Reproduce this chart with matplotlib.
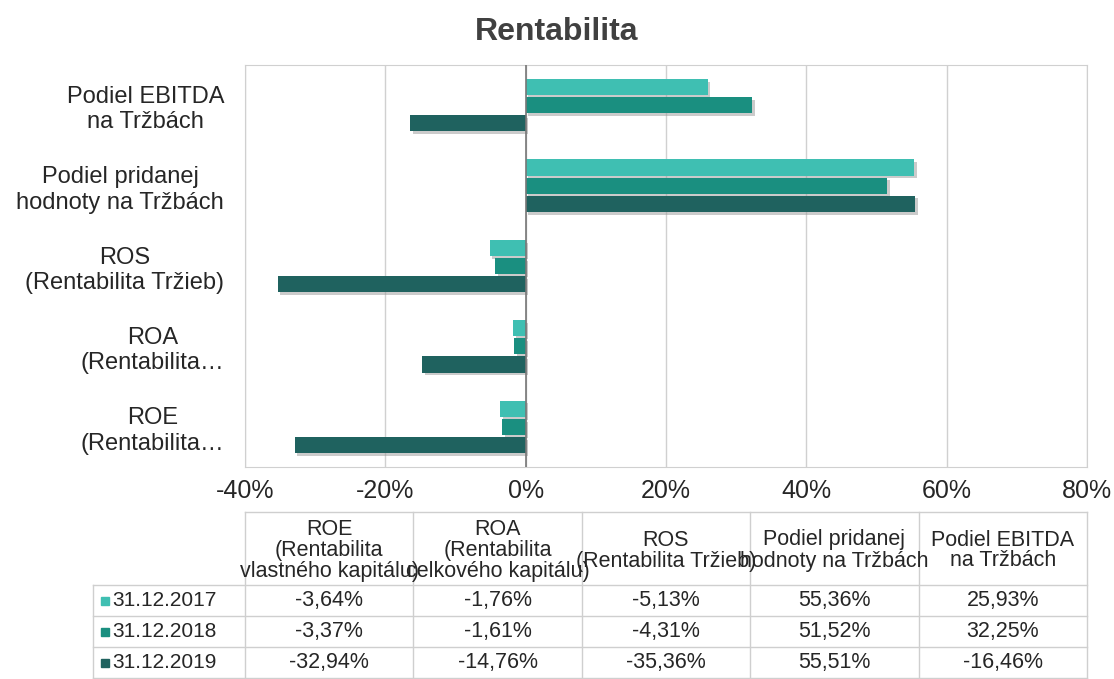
import numpy as np
import matplotlib.pyplot as plt
import matplotlib.patheffects as pe
from matplotlib.lines import Line2D
from matplotlib.patches import Rectangle

plt.rcParams['font.family'] = ['Liberation Sans', 'DejaVu Sans']

# Data (bottom to top on the chart)
kategorie = ['ROE\n(Rentabilita…', 'ROA\n(Rentabilita…', 'ROS\n(Rentabilita Tržieb)',
             'Podiel pridanej\nhodnoty na Tržbách', 'Podiel EBITDA\nna Tržbách']
hlavicky = ['ROE\n(Rentabilita\nvlastného kapitálu)', 'ROA\n(Rentabilita\ncelkového kapitálu)',
            'ROS\n(Rentabilita Tržieb)', 'Podiel pridanej\nhodnoty na Tržbách',
            'Podiel EBITDA\nna Tržbách']
roky = ['31.12.2017', '31.12.2018', '31.12.2019']
h2017 = [-3.64, -1.76, -5.13, 55.36, 25.93]
h2018 = [-3.37, -1.61, -4.31, 51.52, 32.25]
h2019 = [-32.94, -14.76, -35.36, 55.51, -16.46]
farby = ['#3fbfb2', '#1a8f80', '#1f625f']
xticky = [-40, -20, 0, 20, 40, 60, 80]
tc = '#262626'

W, H = 1114, 679
fig = plt.figure(figsize=(W / 100, H / 100), dpi=100)
ax = fig.add_axes([245 / W, 1 - 467 / H, (1087 - 245) / W, (467 - 65) / H])

y = np.arange(len(kategorie))
offs = [0.225, 0.0, -0.225]
tien = [pe.SimplePatchShadow(offset=(2, -2), shadow_rgbFace='#999999', alpha=0.5), pe.Normal()]
for hodn, off, f, r in zip([h2017, h2018, h2019], offs, farby, roky):
    ax.barh(y + off, hodn, height=0.2, color=f, label=r, path_effects=tien, zorder=3)

ax.set_xlim(-40, 80)
ax.set_ylim(-0.5, len(kategorie) - 0.5)
ax.set_xticks(xticky)
ax.set_xticklabels([f'{t}%' for t in xticky], fontsize=18, color=tc)
ax.set_yticks(y)
ax.set_yticklabels(kategorie, fontsize=17, multialignment='center', color=tc)
ax.tick_params(length=0, pad=15)
ax.tick_params(axis='x', pad=9)
ax.grid(axis='x', color='#d0d0d0', linewidth=1, zorder=0)
for s in ax.spines.values():
    s.set_color('#d0d0d0')
ax.axvline(0, color='#777777', linewidth=1.2, zorder=4)
fig.suptitle('Rentabilita', fontsize=23, fontweight='bold', color='#404040', y=1 - 32 / H, va='center')

# data table below the chart
tab = fig.add_axes([0, 0, 1, 1], zorder=-1)
tab.set_xlim(0, W)
tab.set_ylim(H, 0)
tab.axis('off')
x0, x1 = 245, 1087
lab_x0 = 93
ncol = len(hlavicky)
cw = (x1 - x0) / ncol
y_top, y_head, rh = 512, 585, 31
y_bot = y_head + rh * len(roky)
lc = '#cfcfcf'
for i in range(ncol + 1):
    tab.add_line(Line2D([x0 + i * cw] * 2, [y_top, y_bot], color=lc, lw=1))
tab.add_line(Line2D([lab_x0] * 2, [y_head, y_bot], color=lc, lw=1))
tab.add_line(Line2D([x0, x1], [y_top, y_top], color=lc, lw=1))
for j in range(len(roky) + 1):
    tab.add_line(Line2D([lab_x0, x1], [y_head + j * rh] * 2, color=lc, lw=1))

for i, t in enumerate(hlavicky):
    tab.text(x0 + (i + 0.5) * cw, (y_top + y_head) / 2 + 2, t, ha='center', va='center',
             fontsize=15.5, color=tc, linespacing=1.0)

rady = [h2017, h2018, h2019]
for j, (r, hodn, f) in enumerate(zip(roky, rady, farby)):
    yc = y_head + (j + 0.5) * rh
    tab.add_patch(Rectangle((101, yc - 4), 8, 8, color=f))
    tab.text(112, yc, r, ha='left', va='center', fontsize=15, color=tc)
    for i, v in enumerate(hodn):
        tab.text(x0 + (i + 0.5) * cw, yc, f'{v:.2f}%'.replace('.', ','), ha='center',
                 va='center', fontsize=15.5, color=tc)

fig.savefig('out.png', dpi=100)
